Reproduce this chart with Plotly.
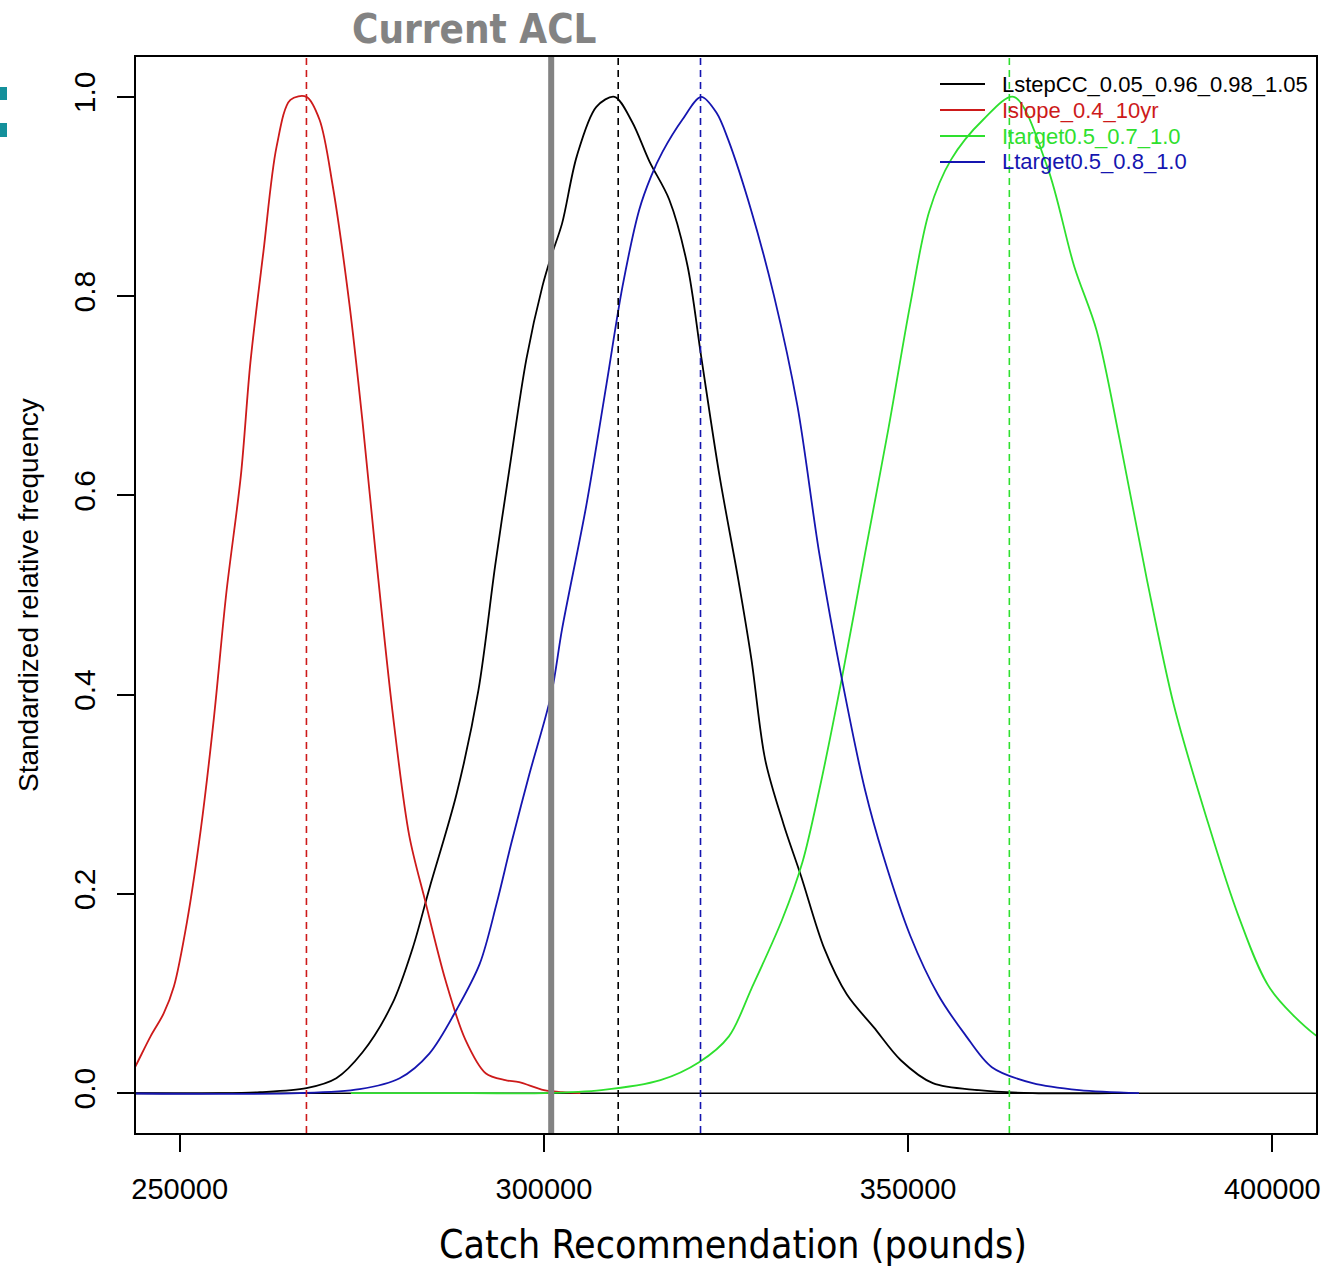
import plotly.graph_objects as go

# ---- data ----
series_names = ["LstepCC_0.05_0.96_0.98_1.05", "Islope_0.4_10yr",
                "Itarget0.5_0.7_1.0", "Ltarget0.5_0.8_1.0"]
series_colors = ["#000000", "#CD1A1A", "#2EE02E", "#1515B0"]

black_x = [238000, 255500, 261000, 267400, 271500, 275100, 279200, 282000, 284300,
           288000, 291000, 293300, 295300, 297600, 299800, 301000, 302500, 304500,
           307200, 309700, 312100, 314500, 317200, 319700, 321600, 324100, 326700,
           328500, 330400, 332900, 335300, 338500, 341600, 345300, 349000, 353400,
           359700, 367100, 378000]
black_y = [0.0, 0.0, 0.001, 0.005, 0.015, 0.041, 0.09, 0.146, 0.206,
           0.30, 0.404, 0.529, 0.628, 0.737, 0.81, 0.84, 0.873, 0.94,
           0.99, 1.0, 0.975, 0.935, 0.897, 0.831, 0.739, 0.62, 0.515,
           0.435, 0.334, 0.27, 0.218, 0.145, 0.099, 0.066, 0.033, 0.01,
           0.003, 0.0, 0.0]

red_x = [242000, 244000, 246000, 247800, 249200, 251000, 252900, 254700, 256400,
         258400, 259700, 261500, 263300, 265200, 267400, 269200, 271000, 273300,
         275100, 276900, 279200, 281500, 283700, 286500, 289200, 292000, 294700,
         296600, 300000, 302500, 305000]
red_y = [0.0, 0.028, 0.057, 0.08, 0.107, 0.172, 0.265, 0.377, 0.502,
         0.62, 0.733, 0.845, 0.95, 0.997, 1.0, 0.977, 0.911, 0.792,
         0.674, 0.542, 0.384, 0.259, 0.193, 0.113, 0.054, 0.02, 0.013,
         0.011, 0.003, 0.001, 0.0]

green_x = [273500, 290000, 300100, 307900, 316000, 321300, 325400, 328500, 332700,
           335500, 337800, 340900, 344100, 347300, 350300, 352900, 355900, 360300,
           364500, 369100, 372800, 375900, 379100, 382800, 386500, 390900, 395300,
           399700, 405800, 408000]
green_y = [0.0, 0.0, 0.0, 0.003, 0.013, 0.031, 0.057, 0.105, 0.174,
           0.232, 0.304, 0.416, 0.542, 0.667, 0.792, 0.885, 0.937, 0.977,
           1.0, 0.93, 0.83, 0.765, 0.654, 0.515, 0.389, 0.278, 0.179,
           0.105, 0.059, 0.05]

blue_x = [238000, 266500, 274700, 280200, 284300, 288100, 291200, 293500, 295500,
          298000, 301000, 302500, 305800, 308600, 310800, 313100, 314700, 316300,
          319000, 321600, 323700, 325300, 328500, 331600, 334800, 337800, 340900,
          344100, 346600, 350300, 354100, 357800, 361500, 367100, 373500, 381700]
blue_y = [0.0, 0.0, 0.004, 0.015, 0.04, 0.085, 0.13, 0.19, 0.25,
          0.32, 0.40, 0.466, 0.589, 0.712, 0.81, 0.887, 0.92, 0.945,
          0.977, 1.0, 0.984, 0.957, 0.885, 0.80, 0.69, 0.542, 0.416,
          0.304, 0.238, 0.158, 0.099, 0.059, 0.026, 0.01, 0.003, 0.0]

# dashed vertical reference lines (one per series, same order as series_names)
series_medians = [310200, 267400, 363900, 321500]
current_acl = 301000

x_ticks = [250000, 300000, 350000, 400000]
y_ticks = [0.0, 0.2, 0.4, 0.6, 0.8, 1.0]
x_range = [244000, 406000]
y_range = [-0.04, 1.04]

title_text = "Current ACL"
x_title = "Catch Recommendation (pounds)"
y_title = "Standardized relative frequency"

# ---- figure ----
fig = go.Figure()

# zero reference line (below curves)
fig.add_hline(y=0, line=dict(color="#000000", width=1.5), layer="below")

xs = [black_x, red_x, green_x, blue_x]
ys = [black_y, red_y, green_y, blue_y]
for name, col, x, y in zip(series_names, series_colors, xs, ys):
    fig.add_trace(go.Scatter(
        x=x, y=y, mode="lines",
        line=dict(color=col, width=1.8, shape="spline", smoothing=0.9),
        name=name, showlegend=False, cliponaxis=True))

for col, m in zip(series_colors, series_medians):
    fig.add_vline(x=m, line=dict(color=col, width=1.6, dash="7px,5px"), layer="above")

fig.add_vline(x=current_acl, line=dict(color="#838383", width=6), layer="above")

# plot-area geometry in pixels
W, H = 1330, 1269
L, R, T, B = 136, 14, 57, 136
pw, ph = W - L - R, H - T - B

def px_x(p):
    return (p - L) / pw

def px_y(p):
    return 1 - (p - T) / ph

# legend (drawn as text + short line samples, like R's legend())
legend_rows = [84, 110, 136, 162]
for name, col, yy in zip(series_names, series_colors, legend_rows):
    fig.add_shape(type="line", xref="paper", yref="paper",
                  x0=px_x(940), x1=px_x(985), y0=px_y(yy), y1=px_y(yy),
                  line=dict(color=col, width=1.8), layer="above")
    fig.add_annotation(text=name, xref="paper", yref="paper",
                       x=px_x(1000), y=px_y(yy), xanchor="left", yanchor="middle",
                       showarrow=False,
                       font=dict(family="Liberation Sans, Arial, sans-serif", size=22, color=col))

narrow = "Liberation Sans Narrow, DejaVu Sans Condensed, Arial Narrow, sans-serif"
fig.add_annotation(text=f"<b>{title_text}</b>", xref="paper", yref="paper",
                   x=px_x(474), y=px_y(29), xanchor="center", yanchor="middle",
                   showarrow=False, font=dict(family=narrow, size=40, color="#838383"))
fig.add_annotation(text=x_title, xref="paper", yref="paper",
                   x=px_x(733), y=px_y(1245), xanchor="center", yanchor="middle",
                   showarrow=False, font=dict(family=narrow, size=39, color="#000000"))
fig.add_annotation(text=y_title, xref="paper", yref="paper",
                   x=px_x(28), y=px_y(595), xanchor="center", yanchor="middle",
                   textangle=-90, showarrow=False,
                   font=dict(family="Liberation Sans, Arial, sans-serif", size=28, color="#000000"))

# small teal marks on the left edge
for (y0, y1) in [(87, 100), (123, 137)]:
    fig.add_shape(type="rect", xref="paper", yref="paper",
                  x0=px_x(0), x1=px_x(7), y0=px_y(y1), y1=px_y(y0),
                  fillcolor="#14909B", line=dict(width=0), layer="above")

fig.update_xaxes(range=x_range, tickvals=x_ticks, ticktext=[str(v) for v in x_ticks],
                 ticks="outside", ticklen=17, tickwidth=1.5, tickcolor="#000000",
                 showline=True, linecolor="#000000", linewidth=1.5, mirror=True,
                 showgrid=False, zeroline=False, ticklabelstandoff=12,
                 tickfont=dict(family="Liberation Sans, Arial, sans-serif", size=29, color="#000000"))
fig.update_yaxes(range=y_range, tickvals=y_ticks, ticktext=[f"{v:.1f}" for v in y_ticks],
                 ticks="outside", ticklen=17, tickwidth=1.5, tickcolor="#000000",
                 showline=True, linecolor="#000000", linewidth=1.5, mirror=True,
                 showgrid=False, zeroline=False, tickangle=-90, ticklabelstandoff=10,
                 tickfont=dict(family="Liberation Sans, Arial, sans-serif", size=30, color="#000000"))

fig.update_layout(
    width=W, height=H,
    margin=dict(l=L, r=R, t=T, b=B, autoexpand=False),
    paper_bgcolor="#FFFFFF", plot_bgcolor="#FFFFFF",
    showlegend=False,
)

fig.write_html("out.html", config={"displayModeBar": False},
               post_script="document.body.style.margin='0px';")
